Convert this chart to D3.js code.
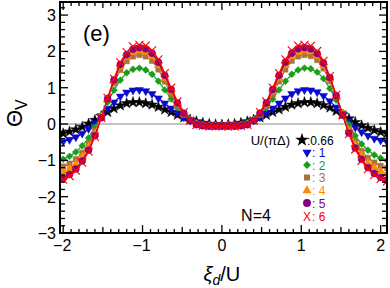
<!DOCTYPE html>
<html>
<head>
<meta charset="utf-8">
<script src="https://cdn.jsdelivr.net/npm/d3@7"></script>
<style>
  body { margin: 0; background: #fff; }
  text { font-family: "Liberation Sans", Arial, sans-serif; }
</style>
</head>
<body>
<div id="chart"></div>
<script>
// grid of xi_d/U values
const xi = [-2.08,-2,-1.92,-1.84,-1.76,-1.68,-1.6,-1.52,-1.44,-1.36,-1.28,-1.2,-1.12,-1.04,-0.96,-0.88,-0.8,-0.72,-0.64,-0.56,-0.48,-0.4,-0.32,-0.24,-0.16,-0.08,
  0,0.08,0.16,0.24,0.32,0.4,0.48,0.56,0.64,0.72,0.8,0.88,0.96,1.04,1.12,1.2,1.28,1.36,1.44,1.52,1.6,1.68,1.76,1.84,1.92,2,2.08];

// Theta_V for each U/(pi Delta)
const u066 = [-0.3,-0.26,-0.21,-0.15,-0.08,0.01,0.11,0.22,0.33,0.43,0.51,0.57,0.6,0.6,0.57,0.53,0.47,0.4,0.33,0.25,0.18,0.12,0.07,0.03,0.0,-0.01,
  -0.02,-0.01,0.0,0.03,0.07,0.12,0.18,0.25,0.33,0.4,0.47,0.53,0.57,0.6,0.6,0.57,0.52,0.45,0.36,0.26,0.15,0.05,-0.04,-0.11,-0.17,-0.22,-0.26];
const u1 = [-0.52,-0.48,-0.43,-0.36,-0.26,-0.13,0.03,0.22,0.42,0.6,0.76,0.87,0.93,0.94,0.91,0.83,0.71,0.57,0.43,0.3,0.19,0.1,0.04,0.0,-0.02,-0.03,
  -0.03,-0.03,-0.02,0.0,0.04,0.1,0.19,0.3,0.43,0.57,0.71,0.83,0.91,0.94,0.93,0.88,0.78,0.63,0.46,0.27,0.08,-0.09,-0.22,-0.32,-0.4,-0.45,-0.49];
const u2 = [-1.03,-0.97,-0.89,-0.77,-0.6,-0.38,-0.09,0.25,0.6,0.93,1.21,1.41,1.51,1.54,1.49,1.37,1.18,0.94,0.69,0.45,0.26,0.12,0.03,-0.02,-0.04,-0.05,
  -0.05,-0.05,-0.04,-0.02,0.03,0.12,0.26,0.45,0.69,0.94,1.18,1.37,1.49,1.54,1.52,1.43,1.25,0.98,0.66,0.32,-0.02,-0.32,-0.55,-0.72,-0.85,-0.94,-1.0];
const u3 = [-1.23,-1.17,-1.09,-0.97,-0.79,-0.54,-0.2,0.22,0.68,1.12,1.49,1.73,1.86,1.9,1.86,1.74,1.5,1.17,0.82,0.5,0.26,0.09,0.0,-0.04,-0.05,-0.06,
  -0.06,-0.06,-0.05,-0.04,0.0,0.09,0.26,0.5,0.82,1.17,1.5,1.74,1.86,1.9,1.87,1.76,1.53,1.18,0.75,0.3,-0.13,-0.48,-0.74,-0.93,-1.06,-1.15,-1.21];
const u4 = [-1.38,-1.32,-1.23,-1.1,-0.9,-0.63,-0.26,0.2,0.7,1.18,1.58,1.84,1.98,2.02,1.98,1.86,1.62,1.27,0.9,0.55,0.28,0.09,-0.01,-0.05,-0.06,-0.06,
  -0.06,-0.06,-0.06,-0.05,-0.01,0.09,0.28,0.55,0.9,1.27,1.62,1.86,1.98,2.02,1.99,1.87,1.62,1.24,0.77,0.28,-0.19,-0.57,-0.85,-1.06,-1.2,-1.3,-1.36];
const u5 = [-1.56,-1.49,-1.39,-1.24,-1.02,-0.72,-0.32,0.17,0.7,1.21,1.64,1.91,2.06,2.1,2.07,1.95,1.7,1.34,0.95,0.58,0.3,0.09,-0.02,-0.05,-0.06,-0.06,
  -0.06,-0.06,-0.06,-0.05,-0.02,0.09,0.3,0.58,0.95,1.34,1.7,1.95,2.07,2.1,2.07,1.94,1.68,1.28,0.78,0.25,-0.25,-0.66,-0.97,-1.2,-1.36,-1.47,-1.54];
const u6 = [-1.6,-1.53,-1.43,-1.28,-1.06,-0.76,-0.35,0.17,0.72,1.25,1.7,1.98,2.14,2.18,2.16,2.03,1.78,1.4,1.0,0.62,0.33,0.1,-0.02,-0.05,-0.06,-0.06,
  -0.06,-0.06,-0.06,-0.05,-0.02,0.1,0.33,0.62,1.0,1.4,1.78,2.03,2.16,2.18,2.15,2.01,1.74,1.32,0.8,0.25,-0.28,-0.7,-1.01,-1.24,-1.4,-1.51,-1.58];

const seriesValues = [u066, u1, u2, u3, u4, u5, u6];
const legendLabels = [':0.66', ': 1', ': 2', ': 3', ': 4', ': 5', ': 6'];
const colors = ['#000000', '#0a0acd', '#1a9e1a', '#a8733c', '#ff8c00', '#800080', '#ff0000'];
const symbols = ['star', 'tridown', 'diamond', 'square', 'triangle', 'circle', 'x'];

const xTicks = [-2, -1, 0, 1, 2];
const yTicks = [-3, -2, -1, 0, 1, 2, 3];

const width = 390, height = 288;
const margin = { left: 60, right: 3, top: 2, bottom: 55 };

const svg = d3.select('#chart').append('svg')
  .attr('width', width)
  .attr('height', height);

const x = d3.scaleLinear().domain([-2.04, 2.08]).range([margin.left, width - margin.right]);
const y = d3.scaleLinear().domain([-3, 3.36]).range([height - margin.bottom, margin.top]);

const [x0, x1] = x.range();
const [yb, yt] = y.range();

svg.append('clipPath').attr('id', 'clip')
  .append('rect')
  .attr('x', x0).attr('y', yt)
  .attr('width', x1 - x0).attr('height', yb - yt);

// zero line
svg.append('line')
  .attr('x1', x0).attr('x2', x1)
  .attr('y1', y(0)).attr('y2', y(0))
  .attr('stroke', '#888').attr('stroke-width', 1);

function markerPath(kind, s = 1) {
  switch (kind) {
    case 'star': return d3.symbol(d3.symbolStar, 36 * s)();
    case 'tridown': return d3.symbol(d3.symbolTriangle, 28 * s)();
    case 'triangle': return d3.symbol(d3.symbolTriangle, 28 * s)();
    case 'diamond': return d3.symbol(d3.symbolSquare, 24 * s)();
    case 'square': return d3.symbol(d3.symbolSquare, 28 * s)();
    case 'circle': return d3.symbol(d3.symbolCircle, 38 * s)();
    case 'x': return d3.symbol(d3.symbolTimes, 44 * s)();
  }
}
function markerRotate(kind) {
  if (kind === 'tridown') return ' rotate(180)';
  if (kind === 'diamond') return ' rotate(45)';
  return '';
}

const plot = svg.append('g').attr('clip-path', 'url(#clip)');

const line = d3.line().x((d, i) => x(xi[i])).y(d => y(d));

seriesValues.forEach((vals, k) => {
  const g = plot.append('g');
  g.append('path')
    .attr('d', line(vals))
    .attr('fill', 'none')
    .attr('stroke', colors[k])
    .attr('stroke-width', 1.2);
  const isX = symbols[k] === 'x';
  g.selectAll('path.m')
    .data(vals)
    .join('path')
    .attr('class', 'm')
    .attr('d', markerPath(symbols[k]))
    .attr('transform', (d, i) => `translate(${x(xi[i])},${y(d)})` + markerRotate(symbols[k]))
    .attr('fill', isX ? 'none' : colors[k])
    .attr('stroke', colors[k])
    .attr('stroke-width', isX ? 1.1 : 0.5);
});

// ticks (inward, all four sides)
const tk = svg.append('g').attr('stroke', '#000').attr('stroke-width', 1.3);
const xMinor = d3.range(-20, 21).map(d => d / 10);
xMinor.forEach(v => {
  const isMajor = Math.abs(v - Math.round(v)) < 1e-6;
  const isMid = !isMajor && Math.abs(v * 2 - Math.round(v * 2)) < 1e-6;
  const len = isMajor ? 8 : (isMid ? 6 : 4);
  tk.append('line').attr('x1', x(v)).attr('x2', x(v)).attr('y1', yb).attr('y2', yb - len);
  tk.append('line').attr('x1', x(v)).attr('x2', x(v)).attr('y1', yt).attr('y2', yt + len);
});
const yMinor = d3.range(-15, 17).map(d => d / 5);
yMinor.forEach(v => {
  const isMajor = Math.abs(v - Math.round(v)) < 1e-6;
  const len = isMajor ? 8 : 5;
  tk.append('line').attr('y1', y(v)).attr('y2', y(v)).attr('x1', x0).attr('x2', x0 + len);
  tk.append('line').attr('y1', y(v)).attr('y2', y(v)).attr('x1', x1).attr('x2', x1 - len);
});

// frame
svg.append('rect')
  .attr('x', x0).attr('y', yt)
  .attr('width', x1 - x0).attr('height', yb - yt)
  .attr('fill', 'none').attr('stroke', '#000').attr('stroke-width', 2);

// tick labels
const fmt = v => (v < 0 ? '\u2212' + Math.abs(v) : '' + v);
svg.append('g').selectAll('text')
  .data(xTicks).join('text')
  .attr('x', d => x(d) + (d < 0 ? -1 : 0))
  .attr('y', yb + 18)
  .attr('text-anchor', 'middle')
  .attr('font-size', 16)
  .text(fmt);
svg.append('g').selectAll('text')
  .data(yTicks).join('text')
  .attr('x', x0 - 4)
  .attr('y', d => y(d) + 6)
  .attr('text-anchor', 'end')
  .attr('font-size', 16)
  .text(fmt);

// axis titles
svg.append('text')
  .attr('transform', `translate(22,${y(0.3)}) rotate(-90)`)
  .attr('text-anchor', 'middle')
  .attr('font-size', 22)
  .html('\u0398<tspan font-size="16" dy="5">V</tspan>');

svg.append('text')
  .attr('x', x(0))
  .attr('y', 281)
  .attr('text-anchor', 'middle')
  .attr('font-size', 20)
  .html('<tspan font-style="italic">\u03BE</tspan><tspan font-size="14" dy="4" font-style="italic">d</tspan><tspan dy="-4">/U</tspan>');

// panel annotations
svg.append('text').attr('x', 83).attr('y', 41).attr('font-size', 22).text('(e)');
svg.append('text').attr('x', 256).attr('y', 221).attr('text-anchor', 'middle').attr('font-size', 16).text('N=4');

// legend
svg.append('text').attr('x', 290).attr('y', 145).attr('text-anchor', 'end').attr('font-size', 13).text('U/(\u03C0\u0394)');
const legendY = [140, 152.5, 165, 177.5, 190.5, 203, 216];
const lg = svg.append('g');
legendLabels.forEach((lab, k) => {
  const sx = k === 0 ? 302 : 307;
  if (symbols[k] === 'x') {
    lg.append('text').attr('x', sx).attr('y', legendY[k] + 4.5).attr('text-anchor', 'middle')
      .attr('font-size', 12).attr('fill', colors[k]).text('X');
  } else {
    lg.append('path')
      .attr('d', markerPath(symbols[k], k === 0 ? 1.6 : 1.3))
      .attr('transform', `translate(${sx},${legendY[k]})` + markerRotate(symbols[k]))
      .attr('fill', colors[k]);
  }
  lg.append('text')
    .attr('x', sx + 5)
    .attr('y', legendY[k] + 4.5)
    .attr('font-size', 12)
    .attr('fill', colors[k])
    .text(lab);
});
</script>
</body>
</html>
